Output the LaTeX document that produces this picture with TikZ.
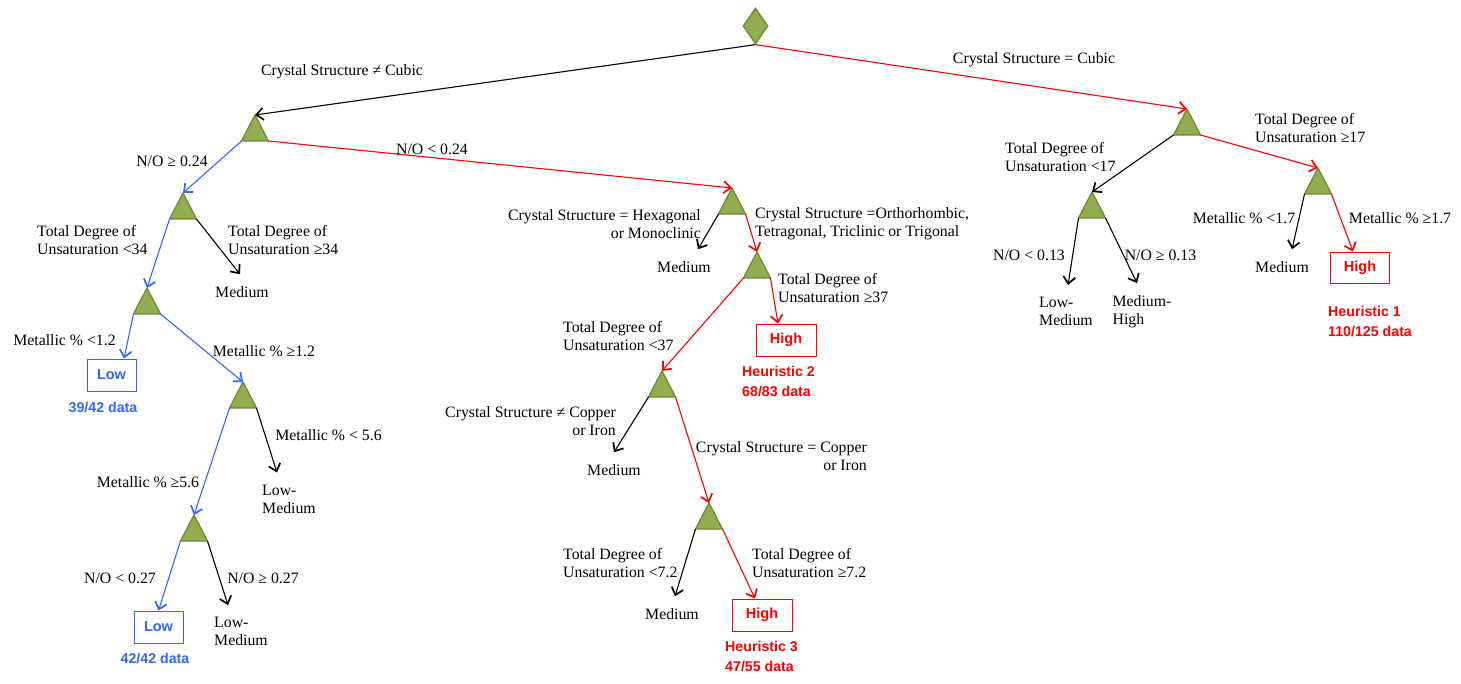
\documentclass[tikz,border=0pt]{standalone}
\usepackage{fontspec}
\setmainfont{Liberation Serif}
\newfontfamily\labelsans{Liberation Sans}
\usetikzlibrary{arrows.meta,shapes.geometric}

\definecolor{nodegreen}{RGB}{146,172,80}
\definecolor{nodeedge}{RGB}{112,138,56}
\definecolor{lowblue}{RGB}{51,102,255}
\definecolor{highred}{RGB}{255,0,0}

% split node: a green triangle given by its apex; corners named <name>l, <name>r
\newcommand\splitnode[3]{%
  \coordinate (#1) at (#2,#3);
  \coordinate (#1l) at (#2-13.5,#3+26);
  \coordinate (#1r) at (#2+13.5,#3+26);
  \filldraw[fill=nodegreen,draw=nodeedge,line width=1.3pt,line join=round]
    (#1) -- (#1r) -- (#1l) -- cycle;
}

\begin{document}
\begin{tikzpicture}[x=1pt,y=-1pt,
  cond/.style={font=\fontsize{15.8}{18}\selectfont, inner sep=0pt},
  leaf/.style={font=\fontsize{15.8}{18}\selectfont, inner xsep=0pt, inner ysep=12pt, align=left},
  classbox/.style={draw, line width=0.9pt, minimum height=32pt, inner sep=0pt,
    font=\labelsans\bfseries\fontsize{14.5}{17}\selectfont},
  lowbox/.style={classbox, draw=lowblue, text=lowblue, minimum width=49pt},
  highbox/.style={classbox, draw=highred, text=highred, minimum width=60pt},
  stat/.style={font=\labelsans\bfseries\fontsize{14.2}{20}\selectfont, inner sep=0pt, align=left},
  arr/.style={-{Straight Barb[length=7pt,width=12pt,line width=1.7pt]}, line width=1.1pt},
  blackarr/.style={arr, draw=black},
  redarr/.style={arr, draw=highred},
  bluearr/.style={arr, draw=lowblue}]

\useasboundingbox (0,0) rectangle (1461,683);
\fill[white] (0,0) rectangle (1461,683);

% root of the tree
\node[diamond, draw=nodeedge, fill=nodegreen, line width=1.3pt, inner sep=0pt,
      minimum width=25pt, minimum height=36pt] (root) at (755.5,26) {};

% split nodes
\splitnode{t1}{255}{115}
\splitnode{t2}{183}{193}
\splitnode{t3}{147}{288}
\splitnode{t4}{243}{382}
\splitnode{t5}{194}{515}
\splitnode{t6}{1187}{109}
\splitnode{t7}{1092}{192}
\splitnode{t8}{1318}{168}
\splitnode{t9}{732}{188}
\splitnode{t10}{757}{252}
\splitnode{t11}{662}{371}
\splitnode{t12}{709}{503}

% leaves with plain text
\node[leaf] (m1) at (242,292) {Medium};
\node[leaf] (lm1) at (289,499) {Low-\\Medium};
\node[leaf] (lm2) at (241,631.5) {Low-\\Medium};
\node[leaf] (m3) at (684,267) {Medium};
\node[leaf] (m4) at (614,470) {Medium};
\node[leaf] (m5) at (672,614) {Medium};
\node[leaf] (lm3) at (1066,311.5) {Low-\\Medium};
\node[leaf] (mh) at (1142,311.5) {Medium-\\High};
\node[leaf] (m6) at (1282,267) {Medium};

% boxed leaves
\node[lowbox] (low1) at (111.5,375) {Low};
\node[lowbox] (low2) at (158.5,627) {Low};
\node[highbox] (high2) at (786,340) {High};
\node[highbox] (high3) at (762,615) {High};
\node[highbox, minimum width=59pt, minimum height=31pt] (high1) at (1360,267.5) {High};

% leaf statistics
\node[stat, text=lowblue] (s1) at (103,407) {39/42 data};
\node[stat, text=lowblue] (s2) at (155,658) {42/42 data};
\node[stat, text=highred, anchor=west] (h2) at (742,381) {Heuristic 2\\68/83 data};
\node[stat, text=highred, anchor=west] (h3) at (725,656.5) {Heuristic 3\\47/55 data};
\node[stat, text=highred, anchor=west] (h1) at (1328,321) {Heuristic 1\\110/125 data};

% connectors
\draw[blackarr] (root.south) -- (t1);
\draw[redarr] (root.south) -- (t6);
\draw[bluearr] (t1l) -- (t2);
\draw[redarr] (t1r) -- (t9);
\draw[bluearr] (t2l) -- (t3);
\draw[blackarr] (t2r) -- ([xshift=-2pt]m1.north);
\draw[bluearr] (t3l) -- ([xshift=12.5pt]low1.north);
\draw[bluearr] (t3r) -- (t4);
\draw[bluearr] (t4l) -- (t5);
\draw[blackarr] (t4r) -- ([xshift=-12pt]lm1.north);
\draw[bluearr] (t5l) -- (low2.north);
\draw[blackarr] (t5r) -- ([xshift=-13pt]lm2.north);
\draw[blackarr] (t9l) -- ([xshift=14pt]m3.north);
\draw[redarr] (t9r) -- (t10);
\draw[redarr] (t10l) -- (t11);
\draw[redarr] (t10r) -- ([xshift=-8pt]high2.north);
\draw[blackarr] (t11l) -- (m4.north);
\draw[redarr] (t11r) -- (t12);
\draw[blackarr] (t12l) -- ([xshift=3pt]m5.north);
\draw[redarr] (t12r) -- ([xshift=-7pt]high3.north);
\draw[blackarr] (t6l) -- (t7);
\draw[redarr] (t6r) -- (t8);
\draw[blackarr] (t7l) -- ([xshift=2pt]lm3.north);
\draw[blackarr] (t7r) -- ([xshift=-5pt]mh.north);
\draw[blackarr] (t8l) -- ([xshift=10pt]m6.north);
\draw[redarr] (t8r) -- ([xshift=-7pt]high1.north);

% split conditions
\node[cond] (c1) at (342,72) {Crystal Structure ≠ Cubic};
\node[cond] (c2) at (1034,60) {Crystal Structure = Cubic};
\node[cond] (c3) at (172,161) {N/O ≥ 0.24};
\node[cond] (c4) at (432,149) {N/O < 0.24};
\node[cond, align=left, anchor=west] (c5) at (37,240) {Total Degree of\\Unsaturation <34};
\node[cond, align=left, anchor=west] (c6) at (228,240) {Total Degree of\\Unsaturation ≥34};
\node[cond] (c7) at (64.5,340) {Metallic \% <1.2};
\node[cond] (c8) at (264,351) {Metallic \% ≥1.2};
\node[cond] (c9) at (328.5,435) {Metallic \% < 5.6};
\node[cond] (c10) at (148,482) {Metallic \% ≥5.6};
\node[cond] (c11) at (120,578) {N/O < 0.27};
\node[cond] (c12) at (263,578) {N/O ≥ 0.27};
\node[cond, align=right, anchor=east] (c13) at (701,224) {Crystal Structure = Hexagonal\\or Monoclinic};
\node[cond, align=left, anchor=west] (c14) at (755,224) {Crystal Structure =Orthorhombic,\\Tetragonal, Triclinic or Trigonal};
\node[cond, align=left, anchor=west] (c15) at (778,288) {Total Degree of\\Unsaturation ≥37};
\node[cond, align=left, anchor=west] (c16) at (563,336) {Total Degree of\\Unsaturation <37};
\node[cond, align=right, anchor=east] (c17) at (616,421) {Crystal Structure ≠ Copper\\or Iron};
\node[cond, align=right, anchor=east] (c18) at (867,456) {Crystal Structure = Copper\\or Iron};
\node[cond, align=left, anchor=west] (c19) at (563,563) {Total Degree of\\Unsaturation <7.2};
\node[cond, align=left, anchor=west] (c20) at (752,563) {Total Degree of\\Unsaturation ≥7.2};
\node[cond, align=left, anchor=west] (c21) at (1005,157) {Total Degree of\\Unsaturation <17};
\node[cond, align=left, anchor=west] (c22) at (1255,128) {Total Degree of\\Unsaturation ≥17};
\node[cond] (c23) at (1029,255) {N/O < 0.13};
\node[cond] (c24) at (1160.5,255) {N/O ≥ 0.13};
\node[cond] (c25) at (1244,218) {Metallic \% <1.7};
\node[cond] (c26) at (1400,218) {Metallic \% ≥1.7};
\end{tikzpicture}
\end{document}
